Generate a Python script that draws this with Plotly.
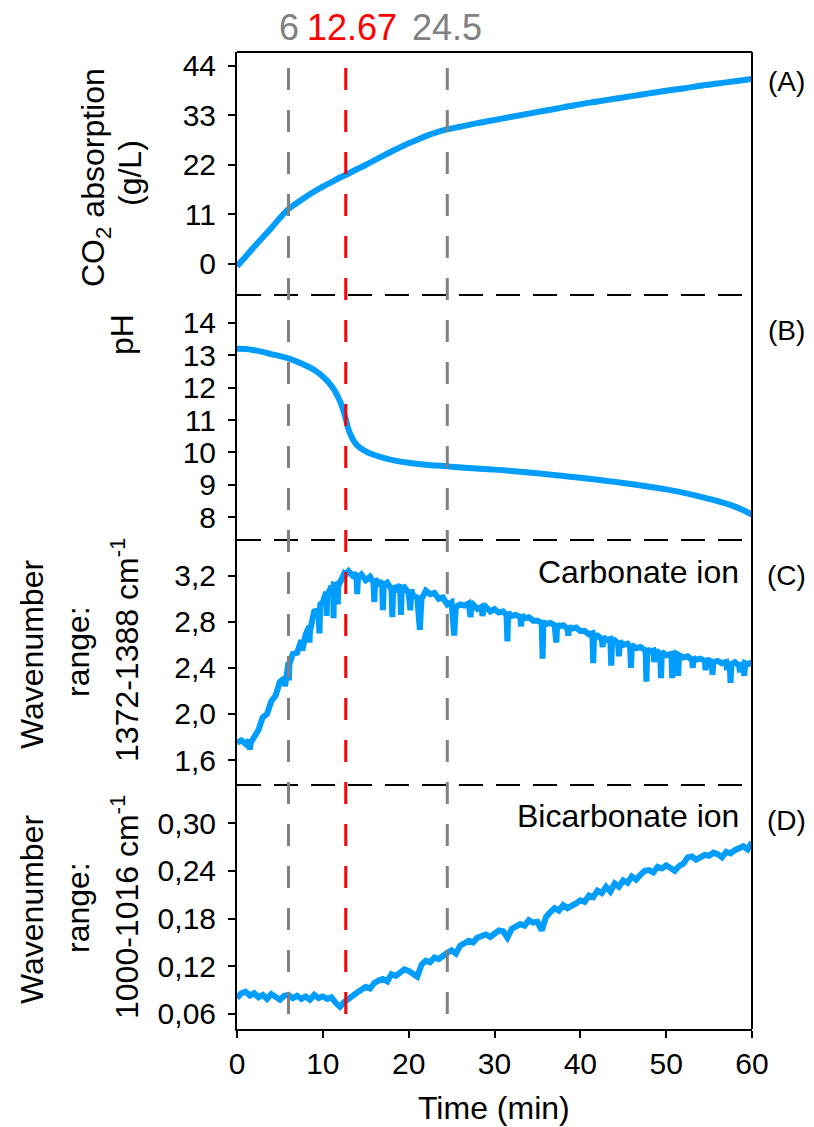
import plotly.graph_objects as go

# ---------------- data ----------------
time_a = [0, 1, 2, 3, 4, 5, 6, 7, 8, 9, 10, 11, 12, 13, 14, 15, 16, 17, 18, 19, 20,
          21, 22, 23, 24, 25, 26, 28, 30, 32, 34, 36, 38, 40, 42, 44, 46, 48, 50,
          52, 54, 56, 58, 60]
co2_abs = [-0.5, 1.6, 3.8, 5.9, 8.0, 10.2, 12.2, 13.6, 14.9, 16.1, 17.2, 18.2, 19.2,
           20.1, 21.1, 22.0, 23.0, 24.0, 25.0, 25.9, 26.8, 27.6, 28.4, 29.1, 29.7,
           30.1, 30.5, 31.3, 32.0, 32.7, 33.4, 34.1, 34.8, 35.5, 36.1, 36.7, 37.3,
           37.9, 38.5, 39.0, 39.6, 40.1, 40.6, 41.1]

time_b = [0, 1, 2, 3, 4, 5, 6, 7, 8, 9, 10, 11, 11.5, 12, 12.5, 12.75, 13, 13.5, 14,
          15, 16, 17, 18, 20, 22, 24.5, 27, 30, 35, 40, 45, 50, 53, 55, 57, 58, 59, 60]
ph = [13.2, 13.19, 13.15, 13.1, 13.03, 12.97, 12.9, 12.8, 12.68, 12.54, 12.34, 12.05,
      11.85, 11.58, 11.2, 10.95, 10.7, 10.4, 10.22, 10.03, 9.92, 9.84, 9.77, 9.68,
      9.62, 9.57, 9.52, 9.47, 9.36, 9.22, 9.06, 8.86, 8.7, 8.57, 8.42, 8.33, 8.22, 8.08]

time_c = [0, 0.5, 1.0, 1.4, 1.5, 1.6, 2.0, 2.5, 3.0, 3.5,
          4.0, 4.5, 5.0, 5.5, 5.6, 6.0, 6.05, 6.1, 6.5, 7.0,
          7.5, 7.6, 8.0, 8.4, 8.45, 8.5, 9.0, 9.5, 9.6, 9.7,
          10.0, 10.4, 10.45, 10.5, 11.0, 11.2, 11.25, 11.3, 11.7, 11.75,
          11.8, 12.0, 12.5, 12.67, 13.0, 13.5, 13.9, 14.0, 14.1, 14.5,
          15.0, 15.5, 15.9, 16.0, 16.1, 16.5, 16.9, 17.0, 17.1, 17.5,
          18.0, 18.1, 18.2, 18.5, 19.0, 19.1, 19.2, 19.5, 20.0, 20.2,
          20.3, 20.5, 21.0, 21.3, 21.5, 22.0, 22.5, 23.0, 23.5, 24.0,
          24.5, 25.0, 25.3, 25.5, 26.0, 26.5, 27.0, 27.2, 27.3, 27.5,
          28.0, 28.5, 28.6, 28.7, 29.0, 29.5, 30.0, 30.5, 31.0, 31.4,
          31.5, 31.6, 32.0, 32.5, 33.0, 33.1, 33.2, 33.5, 34.0, 34.5,
          35.0, 35.5, 35.6, 35.7, 36.0, 36.5, 37.0, 37.2, 37.3, 37.5,
          38.0, 38.5, 38.6, 38.7, 39.0, 39.5, 40.0, 40.5, 41.0, 41.4,
          41.5, 41.6, 42.0, 42.5, 42.6, 42.7, 43.0, 43.5, 43.6, 43.7,
          44.0, 44.4, 44.5, 44.6, 45.0, 45.5, 45.8, 45.9, 46.0, 46.5,
          47.0, 47.6, 47.7, 47.8, 48.0, 48.5, 48.6, 48.7, 49.0, 49.3,
          49.4, 49.5, 50.0, 50.6, 50.7, 50.8, 51.0, 51.3, 51.4, 51.5,
          52.0, 52.5, 53.0, 53.1, 53.2, 53.5, 54.0, 54.5, 54.6, 54.7,
          55.0, 55.3, 55.4, 55.5, 56.0, 56.5, 57.0, 57.1, 57.2, 57.4,
          57.5, 57.6, 58.0, 58.5, 58.6, 58.7, 59.0, 59.1, 59.2, 59.5,
          60.0]
carbonate = [1.75, 1.77, 1.74, 1.77, 1.69, 1.75, 1.80, 1.86, 1.97, 2.00,
             2.11, 2.16, 2.28, 2.31, 2.24, 2.45, 2.29, 2.43, 2.52, 2.53,
             2.64, 2.55, 2.69, 2.76, 2.62, 2.72, 2.89, 2.90, 2.70, 2.95,
             2.97, 3.06, 2.85, 3.02, 3.11, 3.09, 2.83, 3.12, 3.11, 2.95,
             3.15, 3.14, 3.22, 3.21, 3.24, 3.20, 3.22, 3.04, 3.18, 3.21,
             3.16, 3.19, 3.14, 2.97, 3.17, 3.13, 3.15, 2.90, 3.12, 3.14,
             3.08, 2.84, 3.11, 3.08, 3.12, 2.86, 3.09, 3.10, 3.05, 2.90,
             3.08, 3.03, 3.01, 2.73, 3.00, 3.07, 3.04, 3.05, 3.00, 3.01,
             2.95, 2.97, 2.68, 2.93, 2.95, 2.94, 2.96, 2.84, 2.93, 2.95,
             2.91, 2.93, 2.85, 2.90, 2.93, 2.89, 2.91, 2.88, 2.89, 2.86,
             2.63, 2.88, 2.85, 2.86, 2.84, 2.76, 2.86, 2.83, 2.84, 2.81,
             2.81, 2.79, 2.48, 2.80, 2.78, 2.79, 2.77, 2.62, 2.78, 2.76,
             2.77, 2.74, 2.68, 2.76, 2.74, 2.75, 2.72, 2.72, 2.69, 2.70,
             2.44, 2.68, 2.68, 2.65, 2.58, 2.67, 2.64, 2.65, 2.42, 2.63,
             2.64, 2.61, 2.50, 2.63, 2.60, 2.61, 2.58, 2.40, 2.60, 2.57,
             2.58, 2.55, 2.28, 2.57, 2.54, 2.55, 2.45, 2.53, 2.54, 2.52,
             2.31, 2.54, 2.51, 2.52, 2.31, 2.50, 2.52, 2.49, 2.33, 2.51,
             2.49, 2.50, 2.47, 2.40, 2.49, 2.47, 2.48, 2.46, 2.38, 2.48,
             2.45, 2.47, 2.34, 2.45, 2.46, 2.44, 2.45, 2.38, 2.43, 2.45,
             2.27, 2.43, 2.45, 2.42, 2.36, 2.44, 2.42, 2.33, 2.44, 2.43,
             2.45]

time_d = [i * 0.5 for i in range(121)]
bicarbonate = [0.080, 0.086, 0.088, 0.083, 0.086, 0.081, 0.084, 0.079, 0.085, 0.082,
               0.078, 0.083, 0.084, 0.080, 0.083, 0.079, 0.082, 0.078, 0.084, 0.080,
               0.082, 0.079, 0.081, 0.074, 0.069, 0.075, 0.080, 0.083, 0.087, 0.090,
               0.094, 0.092, 0.099, 0.102, 0.104, 0.101, 0.110, 0.108, 0.112, 0.116,
               0.114, 0.110, 0.107, 0.122, 0.127, 0.125, 0.131, 0.129, 0.134, 0.137,
               0.140, 0.136, 0.146, 0.149, 0.152, 0.150, 0.156, 0.158, 0.160, 0.157,
               0.162, 0.165, 0.164, 0.156, 0.167, 0.170, 0.173, 0.171, 0.178, 0.175,
               0.176, 0.165, 0.182, 0.188, 0.193, 0.190, 0.197, 0.193, 0.195, 0.199,
               0.203, 0.201, 0.209, 0.207, 0.215, 0.212, 0.220, 0.214, 0.224, 0.220,
               0.228, 0.225, 0.233, 0.229, 0.235, 0.240, 0.241, 0.238, 0.245, 0.243,
               0.247, 0.244, 0.240, 0.246, 0.249, 0.257, 0.258, 0.254, 0.256, 0.260,
               0.259, 0.263, 0.261, 0.257, 0.264, 0.262, 0.266, 0.268, 0.271, 0.267,
               0.276]

marker_times = [6, 12.67, 24.5]
marker_labels = ["6", "12.67", "24.5"]
marker_colors = ["#808080", "#FF0000", "#808080"]

x_ticks = [0, 10, 20, 30, 40, 50, 60]
a_ticks = [0, 11, 22, 33, 44]
b_ticks = [8, 9, 10, 11, 12, 13, 14]
c_ticks = [1.6, 2.0, 2.4, 2.8, 3.2]
c_ticktext = ["1,6", "2,0", "2,4", "2,8", "3,2"]
d_ticks = [0.06, 0.12, 0.18, 0.24, 0.30]
d_ticktext = ["0,06", "0,12", "0,18", "0,24", "0,30"]

# ---------------- figure ----------------
FONT = "Arial, Liberation Sans, sans-serif"
BLUE = "#009DFF"
W, H = 814, 1127
L, R, T, B = 237, 62, 52, 98
plot_w = W - L - R
plot_h = H - T - B


def px_x(px):
    return (px - L) / plot_w


def px_y(py):
    return (H - B - py) / plot_h


sep = [px_y(785), px_y(540), px_y(295)]

fig = go.Figure()
fig.add_trace(go.Scatter(x=time_a, y=co2_abs, mode="lines", line=dict(color=BLUE, width=6, shape="spline"),
                         xaxis="x", yaxis="y", showlegend=False))
fig.add_trace(go.Scatter(x=time_b, y=ph, mode="lines", line=dict(color=BLUE, width=6, shape="spline"),
                         xaxis="x", yaxis="y2", showlegend=False))
fig.add_trace(go.Scatter(x=time_c, y=carbonate, mode="lines", line=dict(color=BLUE, width=6),
                         xaxis="x", yaxis="y3", showlegend=False))
fig.add_trace(go.Scatter(x=time_d, y=bicarbonate, mode="lines", line=dict(color=BLUE, width=6),
                         xaxis="x", yaxis="y4", showlegend=False))

TICK = 30
yax_common = dict(anchor="x", showline=True, linecolor="black", linewidth=2, ticks="outside",
                  ticklen=7, tickwidth=2, tickcolor="black", showgrid=False, zeroline=False,
                  ticklabelstandoff=6,
                  tickfont=dict(family=FONT, size=TICK, color="black"), fixedrange=True)

fig.update_layout(
    width=W, height=H,
    margin=dict(l=L, r=R, t=T, b=B, pad=0),
    paper_bgcolor="white", plot_bgcolor="white",
    xaxis=dict(domain=[0, 1], range=[0, 60], anchor="y4", tickvals=x_ticks,
               showline=True, linecolor="black", linewidth=2, ticks="outside", ticklen=7,
               tickwidth=2, tickcolor="black", showgrid=False, zeroline=False,
               tickfont=dict(family=FONT, size=TICK, color="black")),
    yaxis=dict(domain=[sep[2], 1], range=[-6.9, 47.1], tickvals=a_ticks, **yax_common),
    yaxis2=dict(domain=[sep[1], sep[2]], range=[7.30, 14.854], tickvals=b_ticks, **yax_common),
    yaxis3=dict(domain=[sep[0], sep[1]], range=[1.383, 3.51], tickvals=c_ticks, ticktext=c_ticktext, **yax_common),
    yaxis4=dict(domain=[0, sep[0]], range=[0.0411, 0.348], tickvals=d_ticks, ticktext=d_ticktext, **yax_common),
)

shapes = []
shapes.append(dict(type="line", xref="paper", yref="paper", x0=0, x1=1, y0=1, y1=1,
                   line=dict(color="black", width=2)))
shapes.append(dict(type="line", xref="paper", yref="paper", x0=1, x1=1, y0=0, y1=1,
                   line=dict(color="black", width=2)))
for s in sep:
    shapes.append(dict(type="line", xref="paper", yref="paper", x0=0, x1=1, y0=s, y1=s,
                       line=dict(color="black", width=2, dash="24px,13px")))
for t, c in zip(marker_times, marker_colors):
    shapes.append(dict(type="line", xref="x", yref="paper", x0=t, x1=t, y0=px_y(68), y1=0,
                       line=dict(color=c, width=3, dash="22px,20px"), layer="above"))
fig.update_layout(shapes=shapes)

ann = []
label_px = [289, 352, 447]
for lab, c, lx in zip(marker_labels, marker_colors, label_px):
    ann.append(dict(text=lab, x=px_x(lx), y=px_y(27), xref="paper", yref="paper", showarrow=False,
                    xanchor="center", yanchor="middle", font=dict(family=FONT, size=36, color=c)))
for lab, py in zip(["(A)", "(B)", "(C)", "(D)"], [82, 330, 575, 820]):
    ann.append(dict(text=lab, x=px_x(786), y=px_y(py), xref="paper", yref="paper", showarrow=False,
                    xanchor="center", yanchor="middle", font=dict(family=FONT, size=28, color="black")))
ann.append(dict(text="Carbonate ion", x=px_x(741), y=px_y(572), xref="paper", yref="paper", showarrow=False,
                xanchor="right", yanchor="middle", font=dict(family=FONT, size=32, color="black")))
ann.append(dict(text="Bicarbonate ion", x=px_x(741), y=px_y(816), xref="paper", yref="paper", showarrow=False,
                xanchor="right", yanchor="middle", font=dict(family=FONT, size=32, color="black")))
ann.append(dict(text="Time (min)", x=px_x(494), y=px_y(1108), xref="paper", yref="paper", showarrow=False,
                xanchor="center", yanchor="middle", font=dict(family=FONT, size=32, color="black")))

titles = [
    ("CO<sub>2</sub> absorption", 95, 178),
    ("(g/L)", 130, 173),
    ("pH", 122, 335),
    ("Wavenumber", 32, 655),
    ("range:", 78, 652),
    ("1372-1388 cm<sup>-1</sup>", 125, 650),
    ("Wavenumber", 32, 910),
    ("range:", 78, 908),
    ("1000-1016 cm<sup>-1</sup>", 125, 907),
]
for txt, tx, ty in titles:
    ann.append(dict(text=txt, x=px_x(tx), y=px_y(ty), xref="paper", yref="paper", showarrow=False,
                    textangle=-90, xanchor="center", yanchor="middle",
                    font=dict(family=FONT, size=32, color="black")))
fig.update_layout(annotations=ann)

fig.write_html("out.html", config={"displayModeBar": False})
